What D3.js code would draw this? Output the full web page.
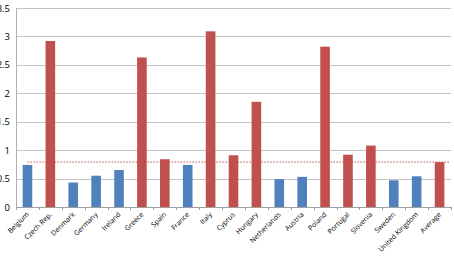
<!DOCTYPE html>
<html>
<head>
<meta charset="utf-8">
<script src="https://cdn.jsdelivr.net/npm/d3@7"></script>
<style>
body { margin: 0; background: #fff; }
text { font-family: "Open Sans", "Liberation Sans", sans-serif; fill: #000; }
</style>
</head>
<body>
<svg width="454" height="261"></svg>
<script>
var countries = ["Belgium", "Czech Rep.", "Denmark", "Germany", "Ireland", "Greece", "Spain", "France",
    "Italy", "Cyprus", "Hungary", "Netherlands", "Austria", "Poland", "Portugal", "Slovenia",
    "Sweden", "United Kingdom", "Average"];
var values = [0.74, 2.92, 0.43, 0.55, 0.65, 2.63, 0.84, 0.74, 3.09, 0.91, 1.85, 0.49, 0.53, 2.82,
    0.92, 1.08, 0.47, 0.54, 0.79];
// above average -> red
var high = [false, true, false, false, false, true, true, false, true, true, true, false, false, true,
    true, true, false, false, true];
var average = 0.79;
var yTicks = [0, 0.5, 1, 1.5, 2, 2.5, 3, 3.5];

var svg = d3.select("svg");
var mLeft = 16, mRight = 451, mTop = 8, mBottom = 207;

var x = d3.scaleBand().domain(countries).range([mLeft, mRight]).paddingInner(0.58).paddingOuter(0.29);
var y = d3.scaleLinear().domain([0, 3.5]).range([mBottom, mTop]);

// gridlines
svg.append("g")
    .selectAll("line")
    .data(yTicks)
    .enter().append("line")
    .attr("x1", mLeft).attr("x2", mRight)
    .attr("y1", function(d) { return Math.round(y(d)) + 0.5; })
    .attr("y2", function(d) { return Math.round(y(d)) + 0.5; })
    .attr("stroke", "#c4c4c4").attr("stroke-width", 1);

svg.append("g")
    .selectAll("text")
    .data(yTicks)
    .enter().append("text")
    .attr("x", mLeft - 6)
    .attr("y", function(d) { return y(d) + 3.5; })
    .attr("text-anchor", "end")
    .style("font-size", "9.5px")
    .text(function(d) { return d; });

// axis lines
svg.append("line").attr("x1", mLeft + 0.5).attr("x2", mLeft + 0.5).attr("y1", mTop).attr("y2", mBottom)
    .attr("stroke", "#b0b0b0");
svg.append("line").attr("x1", mLeft).attr("x2", mRight).attr("y1", mBottom + 0.5).attr("y2", mBottom + 0.5)
    .attr("stroke", "#a0a0a0");

svg.append("g")
    .selectAll("line")
    .data(d3.range(countries.length + 1))
    .enter().append("line")
    .attr("x1", function(i) { return Math.round(mLeft + i * x.step()) + 0.5; })
    .attr("x2", function(i) { return Math.round(mLeft + i * x.step()) + 0.5; })
    .attr("y1", mBottom).attr("y2", mBottom + 3)
    .attr("stroke", "#a0a0a0");

// bars
svg.append("g")
    .selectAll("rect")
    .data(countries)
    .enter().append("rect")
    .attr("x", function(d) { return x(d); })
    .attr("width", x.bandwidth())
    .attr("y", function(d, i) { return y(values[i]); })
    .attr("height", function(d, i) { return mBottom - y(values[i]); })
    .attr("fill", function(d, i) { return high[i] ? "#c0504d" : "#4f81bd"; });

// average line
svg.append("line")
    .attr("x1", x(countries[0]) + x.bandwidth() / 2)
    .attr("x2", mRight - 2)
    .attr("y1", y(average)).attr("y2", y(average))
    .attr("stroke", "#c0504d").attr("stroke-width", 1)
    .attr("stroke-dasharray", "1.5,1.5");

// category labels
svg.append("g")
    .selectAll("text")
    .data(countries)
    .enter().append("text")
    .attr("transform", function(d) {
        return "translate(" + (x(d) + x.bandwidth() / 2 + 2) + "," + (mBottom + 8) + ") rotate(-45)";
    })
    .attr("text-anchor", "end")
    .style("font-size", "7px")
    .text(function(d) { return d; });
</script>
</body>
</html>
